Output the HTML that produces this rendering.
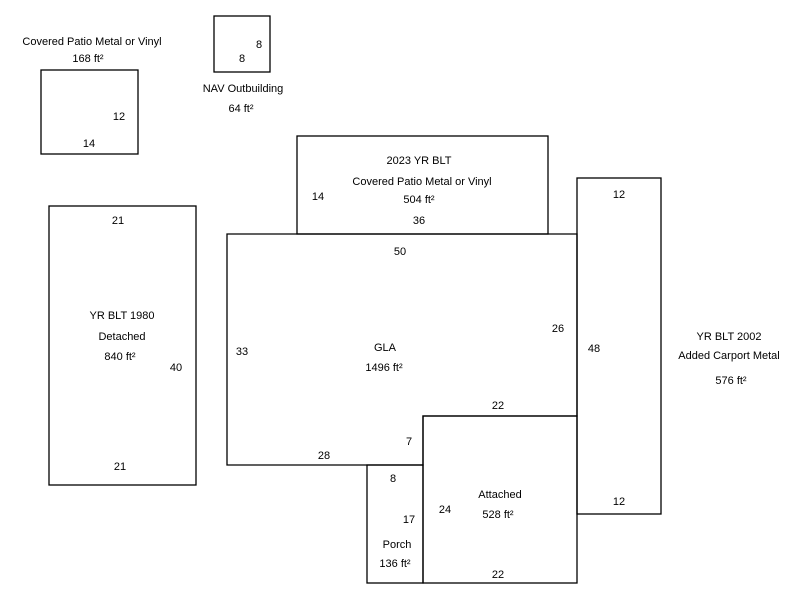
<!DOCTYPE html>
<html><head><meta charset="utf-8"><style>html,body{margin:0;padding:0;background:#fff}svg{display:block}</style></head>
<body>
<svg width="800" height="600" viewBox="0 0 800 600" xmlns="http://www.w3.org/2000/svg" font-family="Liberation Sans, Arial, sans-serif" font-size="11" fill="#000">
<g fill="none" stroke="#000" stroke-width="1.3">
<rect x="41" y="70" width="97" height="84"/>
<rect x="214" y="16" width="56" height="56"/>
<rect x="297" y="136" width="251" height="98"/>
<rect x="49" y="206" width="147" height="279"/>
<polygon points="227,234 577,234 577,416 423,416 423,465 227,465"/>
<rect x="367" y="465" width="56" height="118"/>
<rect x="423" y="416" width="154" height="167"/>
<rect x="577" y="178" width="84" height="336"/>
</g>
<g text-anchor="middle">
<text x="92" y="45">Covered Patio Metal or Vinyl</text>
<text x="88" y="62">168 ft²</text>
<text x="119" y="120">12</text>
<text x="89" y="147">14</text>
<text x="259" y="48">8</text>
<text x="242" y="62">8</text>
<text x="243" y="92">NAV Outbuilding</text>
<text x="241" y="112">64 ft²</text>
<text x="419" y="164">2023 YR BLT</text>
<text x="422" y="185">Covered Patio Metal or Vinyl</text>
<text x="419" y="203">504 ft²</text>
<text x="419" y="224">36</text>
<text x="318" y="200">14</text>
<text x="118" y="224">21</text>
<text x="122" y="319">YR BLT 1980</text>
<text x="122" y="340">Detached</text>
<text x="120" y="360">840 ft²</text>
<text x="176" y="371">40</text>
<text x="120" y="470">21</text>
<text x="400" y="255">50</text>
<text x="242" y="355">33</text>
<text x="385" y="351">GLA</text>
<text x="384" y="371">1496 ft²</text>
<text x="558" y="332">26</text>
<text x="594" y="352">48</text>
<text x="498" y="409">22</text>
<text x="409" y="445">7</text>
<text x="324" y="459">28</text>
<text x="393" y="482">8</text>
<text x="409" y="523">17</text>
<text x="445" y="513">24</text>
<text x="500" y="498">Attached</text>
<text x="498" y="518">528 ft²</text>
<text x="397" y="548">Porch</text>
<text x="395" y="567">136 ft²</text>
<text x="498" y="578">22</text>
<text x="619" y="198">12</text>
<text x="619" y="505">12</text>
<text x="729" y="340">YR BLT 2002</text>
<text x="729" y="359">Added Carport Metal</text>
<text x="731" y="384">576 ft²</text>
</g>
</svg>
</body></html>
